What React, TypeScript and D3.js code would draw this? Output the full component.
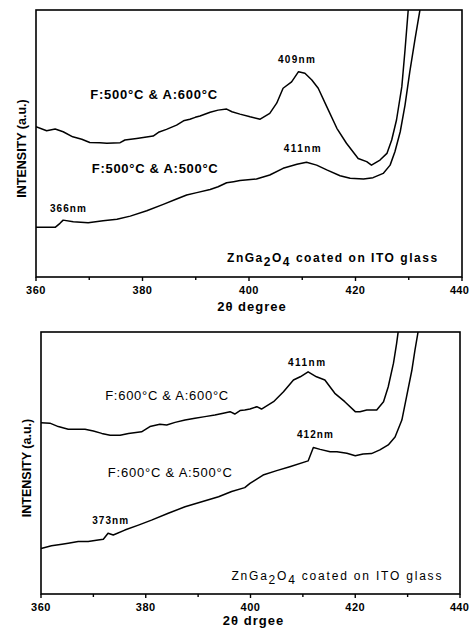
import React from "react";
import * as d3 from "d3";

// top panel: F:500°C films
const topAnnealedHighX = [360, 362.0, 363.6, 365.1, 366.9, 368.6, 370.1, 372.0, 373.3, 375.8, 376.7, 378.9, 382.0, 383.0, 384.5, 386.4, 387.7, 388.9, 389.9, 390.8, 392.7, 394.2, 395.8, 396.8, 398.3, 400.2, 402.1, 403.9, 405.2, 406.4, 408.0, 409.3, 410.5, 411.8, 413.0, 414.6, 416.5, 418.3, 420.5, 422.1, 423.0, 424.6, 425.9, 426.8, 427.7, 428.7, 429.3, 429.9, 430.5];
const topAnnealedHighY = [56.3, 54.8, 55.4, 54.4, 52.5, 51.6, 50.4, 50.3, 50.1, 50.3, 51.3, 51.9, 52.8, 54.2, 55.3, 56.9, 58.5, 59.1, 59.8, 60.3, 61.7, 62.5, 62.9, 61.9, 61.0, 60.0, 59.1, 61.3, 65.1, 70.7, 73.1, 76.9, 76.3, 73.8, 70.7, 63.8, 55.7, 50.1, 44.4, 43.2, 41.9, 43.8, 46.3, 51.3, 58.8, 71.3, 85.0, 100, 115];

const topAnnealedLowX = [360, 363.6, 364.5, 365.1, 367.0, 369.8, 372.6, 375.2, 377.7, 380.8, 383.9, 386.4, 388.3, 390.2, 392.7, 394.2, 395.8, 397.1, 398.3, 401.4, 403.9, 406.4, 409.0, 410.8, 412.7, 414.6, 417.1, 419.0, 421.5, 423.3, 425.2, 426.5, 427.4, 428.4, 429.3, 430.2, 431.2, 432.1, 433.0];
const topAnnealedLowY = [18.6, 18.6, 20.1, 21.3, 20.7, 20.3, 21.1, 21.6, 22.8, 24.8, 27.2, 29.2, 30.7, 31.6, 32.8, 33.8, 35.3, 35.7, 36.1, 36.7, 38.2, 40.7, 42.2, 43.0, 41.9, 40.1, 37.9, 37.0, 36.7, 37.2, 38.8, 41.9, 46.9, 54.4, 64.4, 76.9, 89.4, 100, 112];

// bottom panel: F:600°C films
const botAnnealedHighX = [360, 361.7, 363.3, 365.2, 368.4, 370.0, 371.6, 373.2, 375.1, 376.7, 379.2, 380.8, 382.7, 384.0, 385.6, 387.5, 389.4, 391.3, 393.2, 394.8, 396.1, 397.0, 398.0, 398.9, 399.9, 401.2, 402.1, 404.4, 406.3, 408.2, 409.5, 411.0, 412.6, 414.2, 416.1, 418.0, 420.0, 420.9, 422.2, 424.1, 425.4, 426.3, 427.3, 427.9, 428.2, 428.6];
const botAnnealedHighY = [65.4, 65.2, 63.9, 62.9, 62.9, 62.2, 61.3, 60.6, 60.6, 61.3, 61.9, 63.9, 64.8, 64.5, 65.5, 66.4, 67.1, 67.7, 68.3, 69.0, 69.6, 68.7, 70.0, 70.2, 70.6, 71.5, 70.6, 73.4, 77.2, 81.7, 82.9, 84.8, 82.9, 81.7, 76.6, 73.4, 69.6, 69.6, 70.2, 70.2, 73.4, 79.1, 88.1, 95.7, 100.1, 108];

const botAnnealedLowX = [360, 362.0, 364.0, 365.2, 367.1, 369.0, 370.9, 371.9, 372.8, 373.8, 376.0, 378.6, 381.1, 384.3, 387.5, 390.7, 393.9, 396.4, 398.9, 399.9, 402.4, 405.0, 407.5, 411.0, 412.0, 413.3, 415.2, 416.5, 418.4, 420.0, 421.5, 423.1, 424.7, 426.3, 427.6, 428.9, 429.8, 430.8, 431.4, 432.0, 432.5];
const botAnnealedLowY = [17.4, 18.4, 19.0, 19.4, 20.0, 20.0, 20.6, 20.9, 23.2, 22.5, 24.4, 26.3, 28.2, 30.8, 33.3, 35.2, 37.1, 39.1, 40.6, 42.2, 45.4, 47.1, 48.6, 50.8, 55.9, 55.2, 54.3, 54.3, 53.7, 52.8, 53.4, 53.6, 55.0, 56.9, 59.9, 66.4, 75.3, 85.3, 93.1, 100.1, 108];

const majorTicks = [360, 380, 400, 420, 440];
const minorTicks = [370, 390, 410, 430];

// annotations: [text, x value, y value, width px, bold]
const topLabels: [string, number, number, number, boolean][] = [
  ["F:500°C & A:600°C", 382.1, 66.5, 127, true],
  ["F:500°C & A:500°C", 382.3, 39.1, 126, true],
  ["366nm", 366.0, 24.5, 36, true],
  ["409nm", 408.9, 80.0, 37, true],
  ["411nm", 410.0, 47.0, 37, true],
];
const botLabels: [string, number, number, number, boolean][] = [
  ["F:600°C & A:600°C", 384.0, 74.2, 123, false],
  ["F:600°C & A:500°C", 384.6, 44.5, 124, false],
  ["373nm", 373.2, 26.9, 36, true],
  ["411nm", 410.7, 87.2, 37, true],
  ["412nm", 412.3, 59.7, 36, true],
];

const FONT = "'Liberation Sans', Arial, sans-serif";

function Panel({ id, left, right, top, bottom, series, labels, sampleX, sampleY, sampleBold, xTitle, yTitleX }) {
  const x = d3.scaleLinear().domain([360, 440]).range([left, right]);
  const y = d3.scaleLinear().domain([0, 100]).range([bottom, top]);
  const line = d3.line<[number, number]>().x(d => x(d[0])).y(d => y(d[1]));

  return (
    <g>
      <defs>
        <clipPath id={id}>
          <rect x={left} y={top} width={right - left} height={bottom - top} />
        </clipPath>
      </defs>
      <g clipPath={`url(#${id})`}>
        {series.map((s, i) => (
          <path key={i} d={line(d3.zip(s[0], s[1]) as [number, number][])} fill="none" stroke="#000" strokeWidth={1.5} strokeLinejoin="round" />
        ))}
      </g>
      <rect x={left} y={top} width={right - left} height={bottom - top} fill="none" stroke="#000" strokeWidth={1.6} />
      {majorTicks.map(t => {
        const last = t === 440;
        return (
          <g key={t}>
            <line x1={x(t)} x2={x(t)} y1={bottom} y2={bottom + 4} stroke="#000" strokeWidth={1.4} />
            <text x={last ? 469 : x(t)} y={bottom + 17} textAnchor={last ? "end" : "middle"} fontFamily={FONT} fontWeight="bold" fontSize={11} letterSpacing={last ? 0.2 : 0.6}>{t}</text>
          </g>
        );
      })}
      {minorTicks.map(t => (
        <line key={t} x1={x(t)} x2={x(t)} y1={bottom} y2={bottom + 3} stroke="#000" strokeWidth={1.4} />
      ))}
      <text x={(left + right) / 2 + 3} y={Math.min(bottom + 34, 625)} textAnchor="middle" fontFamily={FONT} fontWeight="bold" fontSize={13} letterSpacing={1}>{xTitle}</text>
      <text transform={`translate(${yTitleX},${(top + bottom) / 2 + 5}) rotate(-90)`} textAnchor="middle" dominantBaseline="central" fontFamily={FONT} fontWeight="bold" fontSize={12.5}>INTENSITY (a.u.)</text>
      {labels.map(([t, lx, ly, w, b]) => (
        <text key={t + lx} x={x(lx)} y={y(ly)} textAnchor="middle" fontFamily={FONT} fontWeight={b ? "bold" : "normal"} fontSize={t.endsWith("nm") ? 10 : 13} textLength={w} lengthAdjust="spacing">{t}</text>
      ))}
      <text x={x(sampleX)} y={y(sampleY)} textAnchor="middle" fontFamily={FONT} fontWeight={sampleBold ? "bold" : "normal"} fontSize={12} textLength={210} lengthAdjust="spacing">
        ZnGa<tspan dy={4} fontSize={12}>2</tspan><tspan dy={-4}>O</tspan><tspan dy={4} fontSize={12}>4</tspan><tspan dy={-4}> coated on ITO glass</tspan>
      </text>
    </g>
  );
}

export default function App() {
  return (
    <svg width={470} height={629} style={{ position: "absolute", left: 0, top: 0, background: "#fff" }}>
      <rect width={470} height={629} fill="#fff" />
      <Panel
        id="clipTop" left={36} right={462} top={10} bottom={277}
        series={[[topAnnealedHighX, topAnnealedHighY], [topAnnealedLowX, topAnnealedLowY]]}
        labels={topLabels} sampleX={415.6} sampleY={5.6} sampleBold={true}
        xTitle="2θ degree" yTitleX={22}
      />
      <Panel
        id="clipBot" left={41} right={460} top={332} bottom={594}
        series={[[botAnnealedHighX, botAnnealedHighY], [botAnnealedLowX, botAnnealedLowY]]}
        labels={botLabels} sampleX={416.4} sampleY={5.3} sampleBold={false}
        xTitle="2θ drgee" yTitleX={27}
      />
    </svg>
  );
}
